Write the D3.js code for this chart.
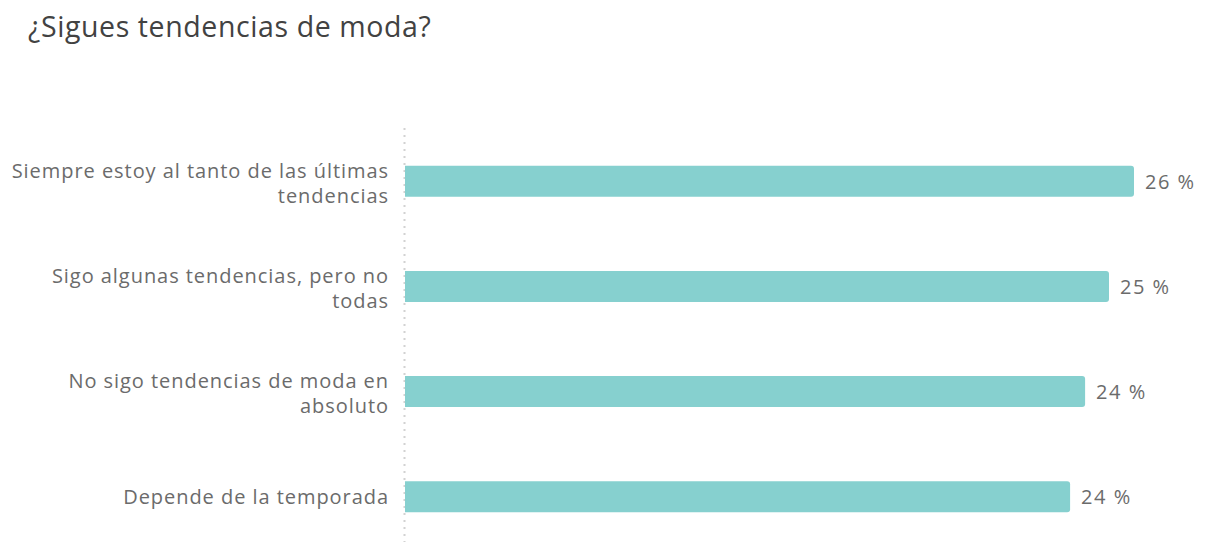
<!DOCTYPE html>
<html lang="es"><head><meta charset="UTF-8">
<title>¿Sigues tendencias de moda?</title>
<script src="https://cdn.jsdelivr.net/npm/d3@7/dist/d3.min.js"></script>
<style>
  body { margin:0; background:#fff; }
  svg text { font-family: "Open Sans", sans-serif; }
</style>
</head>
<body>
<svg id="chart" width="1209" height="542"></svg>
<script>
// respuestas y porcentajes
const categories = [
  ["Siempre estoy al tanto de las últimas", "tendencias"],
  ["Sigo algunas tendencias, pero no", "todas"],
  ["No sigo tendencias de moda en", "absoluto"],
  ["Depende de la temporada"]
];
const values = [26.24, 25.34, 24.48, 23.94];
const valueLabels = ["26 %", "25 %", "24 %", "24 %"];

const svg = d3.select("#chart");
const x0 = 405;
const fs = 20, lineH = 25;

svg.append("text")
  .attr("x", 28).attr("y", 37)
  .attr("font-size", 28.5).attr("fill", "#424242")
  .attr("letter-spacing", 0.6)
  .text("¿Sigues tendencias de moda?");

const x = d3.scaleLinear().domain([0, 26.24]).range([x0, 1134]);
const y = d3.scaleBand().domain(d3.range(categories.length))
  .range([129, 549]).paddingInner(0.705).paddingOuter(0.35);

// eje punteado
svg.append("line")
  .attr("x1", x0 - 0.5).attr("x2", x0 - 0.5)
  .attr("y1", 128).attr("y2", 542)
  .attr("stroke", "#d2d2d2").attr("stroke-width", 2)
  .attr("stroke-dasharray", "2,5");

const row = svg.selectAll("g.row").data(values).enter()
  .append("g").attr("class", "row");

row.append("path")
  .attr("fill", "#86d0cf")
  .attr("d", (d, i) => {
    const l = x(0), r = x(d), t = y(i), h = y.bandwidth(), rr = 3;
    return `M${l},${t}H${r - rr}Q${r},${t} ${r},${t + rr}V${t + h - rr}Q${r},${t + h} ${r - rr},${t + h}H${l}Z`;
  });

row.append("text")
  .attr("x", d => x(d) + 11)
  .attr("y", (d, i) => y(i) + y.bandwidth() / 2)
  .attr("dy", "0.36em")
  .attr("font-size", fs).attr("fill", "#6b6b6b")
  .attr("letter-spacing", 1.5)
  .text((d, i) => valueLabels[i]);

row.append("text")
  .attr("text-anchor", "end")
  .attr("font-size", fs).attr("fill", "#6b6b6b")
  .attr("letter-spacing", 0.95)
  .attr("y", (d, i) => y(i) + y.bandwidth() / 2)
  .each(function(d, i) {
    const lines = categories[i];
    const off = -(lines.length - 1) * lineH / 2 + (lines.length - 1) * 2;
    d3.select(this).selectAll("tspan").data(lines).enter()
      .append("tspan")
      .attr("x", 389)
      .attr("dy", (l, j) => j === 0 ? (off / fs + 0.36) + "em" : lineH + "px")
      .text(l => l);
  });
</script>
</body></html>
